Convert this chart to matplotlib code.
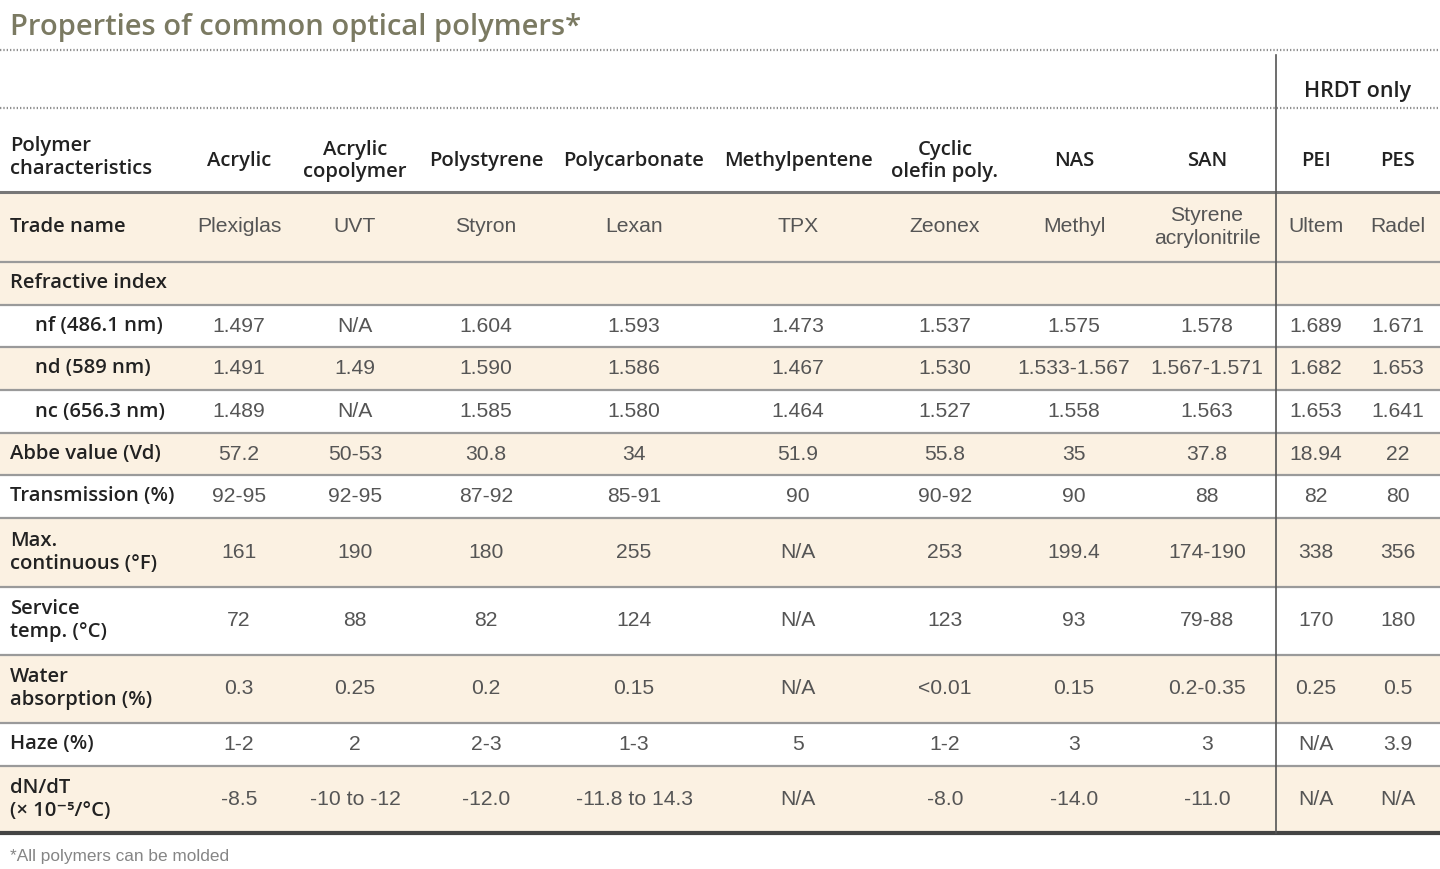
import matplotlib.pyplot as plt
from matplotlib.patches import Rectangle

# ---- table content ----
title = "Properties of common optical polymers*"
footnote = "*All polymers can be molded"
group_label = "HRDT only"

corner_label = "Polymer\ncharacteristics"
polymers = ['Acrylic', 'Acrylic\ncopolymer', 'Polystyrene', 'Polycarbonate', 'Methylpentene',
            'Cyclic\nolefin poly.', 'NAS', 'SAN', 'PEI', 'PES']

row_labels = ['Trade name', 'Refractive index', 'nf (486.1 nm)', 'nd (589 nm)', 'nc (656.3 nm)',
              'Abbe value (Vd)', 'Transmission (%)', 'Max.\ncontinuous (°F)', 'Service\ntemp. (°C)',
              'Water\nabsorption (%)', 'Haze (%)', 'dN/dT\n(× 10⁻⁵/°C)']

trade_name = ['Plexiglas', 'UVT', 'Styron', 'Lexan', 'TPX', 'Zeonex', 'Methyl',
              'Styrene\nacrylonitrile', 'Ultem', 'Radel']
refr_index = [''] * 10
nf = ['1.497', 'N/A', '1.604', '1.593', '1.473', '1.537', '1.575', '1.578', '1.689', '1.671']
nd = ['1.491', '1.49', '1.590', '1.586', '1.467', '1.530', '1.533-1.567', '1.567-1.571', '1.682', '1.653']
nc = ['1.489', 'N/A', '1.585', '1.580', '1.464', '1.527', '1.558', '1.563', '1.653', '1.641']
abbe = ['57.2', '50-53', '30.8', '34', '51.9', '55.8', '35', '37.8', '18.94', '22']
transmission = ['92-95', '92-95', '87-92', '85-91', '90', '90-92', '90', '88', '82', '80']
max_cont = ['161', '190', '180', '255', 'N/A', '253', '199.4', '174-190', '338', '356']
service = ['72', '88', '82', '124', 'N/A', '123', '93', '79-88', '170', '180']
water = ['0.3', '0.25', '0.2', '0.15', 'N/A', '<0.01', '0.15', '0.2-0.35', '0.25', '0.5']
haze = ['1-2', '2', '2-3', '1-3', '5', '1-2', '3', '3', 'N/A', '3.9']
dndt = ['-8.5', '-10 to -12', '-12.0', '-11.8 to 14.3', 'N/A', '-8.0', '-14.0', '-11.0', 'N/A', 'N/A']

rows = [trade_name, refr_index, nf, nd, nc, abbe, transmission, max_cont, service, water, haze, dndt]
indented = [False, False, True, True, True] + [False] * 7
shaded = [True, True, False, True, False, True, False, True, False, True, False, True]

# ---- layout (pixel coords, y grows downward) ----
W, H = 1440, 869
col_x = [239, 355, 486, 634, 798, 945, 1074, 1207, 1316, 1398]
row_edges = [192, 262, 305, 347, 390, 433, 475, 518, 587, 655, 723, 766, 833]
divider_x = 1276

beige = '#fbf1e2'
line_c = '#9a9a9a'
title_c = '#7b7a62'
val_c = '#555555'
lab_c = '#222222'

lab_font = ['Open Sans', 'DejaVu Sans']
val_font = ['Liberation Sans', 'DejaVu Sans']
lab_size = 14.6
val_size = 15.2

fig = plt.figure(figsize=(W / 100, H / 100), dpi=100)
ax = fig.add_axes([0, 0, 1, 1])
ax.set_xlim(0, W)
ax.set_ylim(H, 0)
ax.axis('off')

# title + dotted rules
ax.text(10, 28, title, fontsize=21, color=title_c, family=lab_font, fontweight='semibold',
        ha='left', va='center')
for yy in (50, 108):
    ax.plot([0, W], [yy, yy], color='#8f8f8f', lw=1.6, ls=(0, (0.6, 0.9)), solid_capstyle='butt')
ax.text(1357, 92, group_label, fontsize=15.5, color=lab_c, family=lab_font, fontweight='semibold',
        ha='center', va='center')

# column headers
ax.text(10, 157, corner_label, fontsize=lab_size, color=lab_c, family=lab_font, fontweight='semibold',
        ha='left', va='center', linespacing=1.2)
for x, name in zip(col_x, polymers):
    ax.text(x, 161, name, fontsize=lab_size, color=lab_c, family=lab_font, fontweight='semibold',
            ha='center', va='center', linespacing=1.2)

# body rows
for i, (vals, lab) in enumerate(zip(rows, row_labels)):
    top, bot = row_edges[i], row_edges[i + 1]
    yc = (top + bot) / 2
    if shaded[i]:
        ax.add_patch(Rectangle((0, top), W, bot - top, facecolor=beige, edgecolor='none', zorder=0))
    lx = 35 if indented[i] else 10
    ax.text(lx, yc, lab, fontsize=lab_size, color=lab_c, family=lab_font, fontweight='semibold',
            ha='left', va='center', linespacing=1.2)
    for x, v in zip(col_x, vals):
        ax.text(x, yc, v, fontsize=val_size, color=val_c, family=val_font,
                ha='center', va='center', linespacing=1.3)

# horizontal rules
for yy in row_edges[1:-1]:
    ax.plot([0, W], [yy, yy], color=line_c, lw=1.6, zorder=2)
ax.plot([0, W], [row_edges[0], row_edges[0]], color='#777777', lw=2.2, zorder=2)
ax.plot([0, W], [row_edges[-1], row_edges[-1]], color='#444444', lw=3, zorder=2)

# group divider
ax.plot([divider_x, divider_x], [55, row_edges[-1]], color='#555555', lw=1.2, zorder=3)

ax.text(10, 856, footnote, fontsize=12.4, color='#858585', family=val_font, ha='left', va='center')

fig.savefig('out.png', dpi=100)
